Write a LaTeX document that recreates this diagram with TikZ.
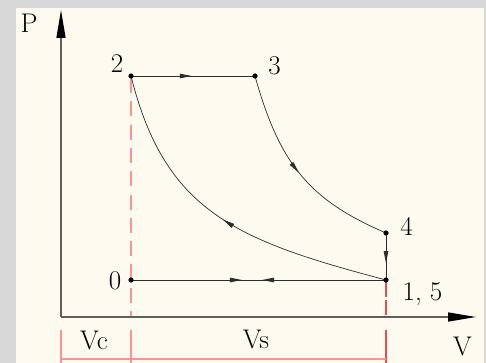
\documentclass[tikz,border=0pt]{standalone}
\usetikzlibrary{arrows.meta,decorations.markings}
\definecolor{bggray}{RGB}{216,216,216}
\definecolor{panel}{RGB}{253,251,240}
\definecolor{axisgray}{RGB}{95,95,90}
\definecolor{linegray}{RGB}{45,45,45}
\definecolor{pinkred}{RGB}{255,145,145}
\definecolor{dimred}{RGB}{235,75,75}
\tikzset{
  lbl/.style={font=\fontsize{27}{31}\selectfont, inner sep=0pt, anchor=base},
  axisline/.style={draw=axisgray, line width=1.3pt, -{Triangle[length=28pt,width=9pt,color=black]}},
  cyc/.style={draw=linegray, line width=0.9pt},
  crv/.style={draw=linegray, line width=0.7pt},
  pinkline/.style={draw=pinkred, line width=1.6pt},
  redline/.style={draw=dimred, line width=1.3pt},
  midarrow/.style={postaction={decorate,decoration={markings,mark=at position #1 with {\arrow{Triangle[length=12pt,width=4.5pt]}}}}},
  dotmark/.style={fill=black},
}
\begin{document}
\begin{tikzpicture}[x=1pt,y=-1pt]
\useasboundingbox (0,0) rectangle (486,363);
\fill[bggray] (0,0) rectangle (486,363);
\fill[panel] (16,8) rectangle (484,363);
% coordinates
\coordinate (O) at (61,317);
\coordinate (Ytop) at (61,10);
\coordinate (Xend) at (476,317);
\coordinate (p0) at (131,280);
\coordinate (p2) at (131,76);
\coordinate (p3) at (255,76);
\coordinate (p4) at (386,233);
\coordinate (p15) at (386,280);
\coordinate (d2top) at (131,78);
\coordinate (d2bot) at (131,317);
\coordinate (d5top) at (386,282);
\coordinate (d5bot) at (386,317);
\coordinate (eL1) at (61,330);
\coordinate (eL2) at (61,363);
\coordinate (eM1) at (131,330);
\coordinate (eM2) at (131,363);
\coordinate (eR1) at (386,330);
\coordinate (eR2) at (386,363);
\coordinate (dimL) at (61,359);
\coordinate (dimR) at (386,359);
% red dimension lines
\draw[pinkline, dash pattern=on 15pt off 8.3pt] (d2top) -- (d2bot);
\draw[redline, dash pattern=on 15pt off 3pt] (d5top) -- (d5bot);
\draw[pinkline] (eL1) -- (eL2);
\draw[pinkline] (eM1) -- (eM2);
\draw[redline] (eR1) -- (eR2);
\draw[pinkline] (dimL) -- (dimR);
% axes
\draw[axisline] (O) -- (Ytop);
\draw[axisline] (O) -- (Xend);
% cycle
\draw[cyc, midarrow=0.49] (p2) -- (p3);
\draw[crv, midarrow=0.5] (p3) .. controls (280,166) and (311,200.75) .. (p4);
\draw[cyc, midarrow=0.64] (p4) -- (p15);
\draw[crv, midarrow=0.5] (p15) .. controls (236,240.3) and (165,212) .. (p2);
\draw[cyc, postaction={decorate,decoration={markings,
   mark=at position 0.435 with {\arrow{Triangle[length=12pt,width=4.5pt]}},
   mark=at position 0.514 with {\arrowreversed{Triangle[length=12pt,width=4.5pt]}}}}] (p0) -- (p15);
% dots
\fill[dotmark] (p0) circle[radius=2.6pt];
\fill[dotmark] (p2) circle[radius=2.6pt];
\fill[dotmark] (p3) circle[radius=2.6pt];
\fill[dotmark] (p4) circle[radius=2.6pt];
\fill[dotmark] (p15) circle[radius=2.6pt];
% labels
\node[lbl] (lP) at (29,33) {P};
\node[lbl] (l2) at (117,73) {2};
\node[lbl] (l3) at (274.5,75) {3};
\node[lbl] (l4) at (406.5,235) {4};
\node[lbl] (l15) at (422.5,300) {1, 5};
\node[lbl] (l0) at (115,289) {0};
\node[lbl] (lV) at (462.5,355) {V};
\node[lbl] (lVc) at (94,349) {Vc};
\node[lbl] (lVs) at (256,348) {Vs};
\end{tikzpicture}
\end{document}
